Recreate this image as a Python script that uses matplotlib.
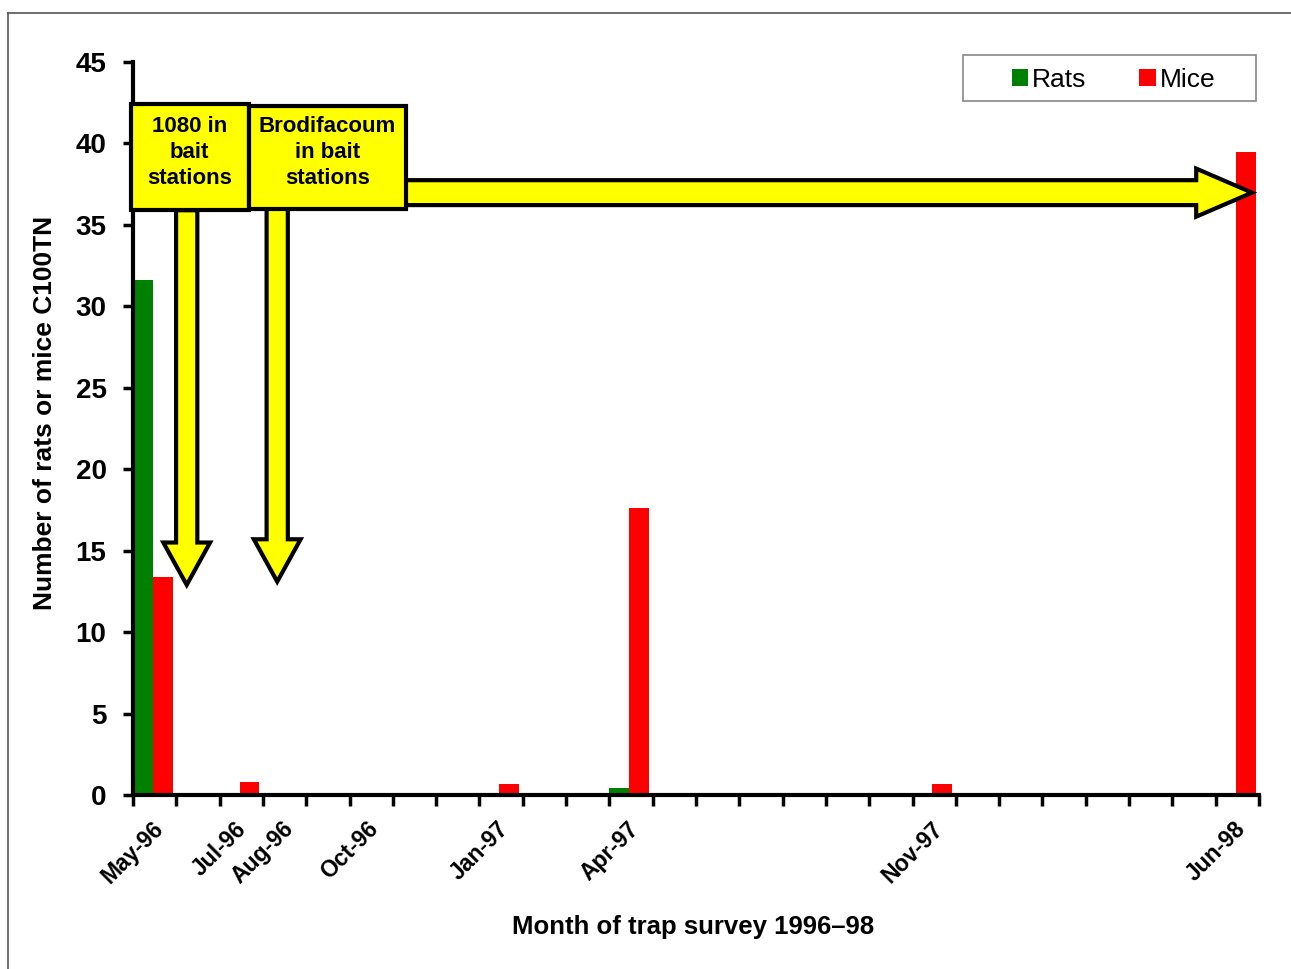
import matplotlib
matplotlib.use("Agg")
import matplotlib.pyplot as plt
from matplotlib.patches import Rectangle, FancyArrow, Patch
from matplotlib.lines import Line2D
import numpy as np

# ---- data ----
survey_labels = ["May-96", "Jul-96", "Aug-96", "Oct-96", "Jan-97", "Apr-97", "Nov-97", "Jun-98"]
survey_month_index = [0, 2, 3, 5, 8, 11, 18, 25]   # months since May-96
rats = [31.6, 0, 0, 0, 0, 0.4, 0, 0]
mice = [13.4, 0.8, 0, 0, 0.7, 17.6, 0.7, 39.5]
y_ticks = [0, 5, 10, 15, 20, 25, 30, 35, 40, 45]
n_months = 26

W, H = 1291, 969
fig = plt.figure(figsize=(W / 100, H / 100), dpi=100)
plt.rcParams['font.family'] = ['Liberation Sans', 'DejaVu Sans']

# axes placed by pixel bounds
ax_l, ax_r, ax_t, ax_b = 133, 1259, 62, 795
ax = fig.add_axes([ax_l / W, 1 - ax_b / H, (ax_r - ax_l) / W, (ax_b - ax_t) / H])

x = np.array(survey_month_index, dtype=float)
bw = 0.46
ax.bar(x + bw / 2, rats, width=bw, color="#008000", zorder=2, label="Rats")
ax.bar(x + bw * 1.5, mice, width=bw, color="#FF0000", zorder=2, label="Mice")

ax.set_xlim(0, n_months)
ax.set_ylim(0, 45)
ax.set_yticks(y_ticks)
ax.set_yticklabels([str(v) for v in y_ticks], fontsize=20, fontweight="bold")

all_ticks = list(range(n_months + 1))
ax.set_xticks(all_ticks)
lab = [""] * len(all_ticks)
for m, l in zip(survey_month_index, survey_labels):
    lab[m] = l
ax.set_xticklabels(lab, fontsize=16.5, fontweight="bold", rotation=45,
                   ha="center", va="top")

for s in ["top", "right"]:
    ax.spines[s].set_visible(False)
for s in ["left", "bottom"]:
    ax.spines[s].set_linewidth(3)
ax.tick_params(axis="y", length=7, width=2.5, pad=12, direction="out")
ax.tick_params(axis="x", length=8, width=2.5, pad=8, direction="out")

# ---- annotations ----
yellow = "#FFFF00"
box1 = Rectangle((-0.05, 35.9), 2.73, 6.5, facecolor=yellow, edgecolor="black",
                 linewidth=3, zorder=5, clip_on=False)
box2 = Rectangle((2.68, 36.0), 3.62, 6.3, facecolor=yellow, edgecolor="black",
                 linewidth=3, zorder=5, clip_on=False)
ax.add_patch(box1)
ax.add_patch(box2)
ax.text(1.31, 39.45, "1080 in\nbait\nstations", ha="center", va="center",
        fontsize=16, fontweight="bold", zorder=6, linespacing=1.3)
ax.text(4.49, 39.45, "Brodifacoum\nin bait\nstations", ha="center", va="center",
        fontsize=16, fontweight="bold", zorder=6, linespacing=1.3)

arrow_kw = dict(facecolor=yellow, edgecolor="black", linewidth=3, zorder=4,
                length_includes_head=True, joinstyle="miter", clip_on=False)
a1 = FancyArrow(1.24, 35.9, 0, 12.9 - 35.9, width=0.49, head_width=1.08,
                head_length=2.6, **arrow_kw)
a2 = FancyArrow(3.33, 36.0, 0, 13.1 - 36.0, width=0.49, head_width=1.08,
                head_length=2.6, **arrow_kw)
a3 = FancyArrow(6.3, 36.98, 25.84 - 6.3, 0, width=1.53, head_width=2.95,
                head_length=1.29, **arrow_kw)
for a in (a1, a2, a3):
    ax.add_patch(a)

# ---- legend ----
fig.patches.append(Rectangle((963 / W, 1 - 101 / H), (1256 - 963) / W, 46 / H,
                             transform=fig.transFigure, facecolor="white",
                             edgecolor="#888888", linewidth=1.2))
handles = [Patch(facecolor="#008000", edgecolor="none", label="Rats"),
           Patch(facecolor="#FF0000", edgecolor="none", label="Mice")]
fig.legend(handles=handles, loc="center", bbox_to_anchor=((963 + 1256) / 2 / W + 4 / W, 1 - 80 / H),
           ncol=2, frameon=False, fontsize=19, handlelength=0.62, handleheight=0.62,
           handletextpad=0.15, columnspacing=2.0)

# ---- axis titles ----
fig.text(45 / W, 1 - 413 / H, "Number of rats or mice C100TN", rotation=90,
         ha="center", va="center", fontsize=19, fontweight="bold")
fig.text(693 / W, 1 - 927 / H, "Month of trap survey 1996\u201398",
         ha="center", va="center", fontsize=18.5, fontweight="bold")

# ---- figure border (partial, as in reference) ----
fig.add_artist(Line2D([8 / W, 1.0], [1 - 13 / H, 1 - 13 / H], transform=fig.transFigure,
                      color="#555555", linewidth=1.2))
fig.add_artist(Line2D([8 / W, 8 / W], [1 - 13 / H, 0], transform=fig.transFigure,
                      color="#555555", linewidth=1.2))

fig.savefig("out.png", dpi=100)
